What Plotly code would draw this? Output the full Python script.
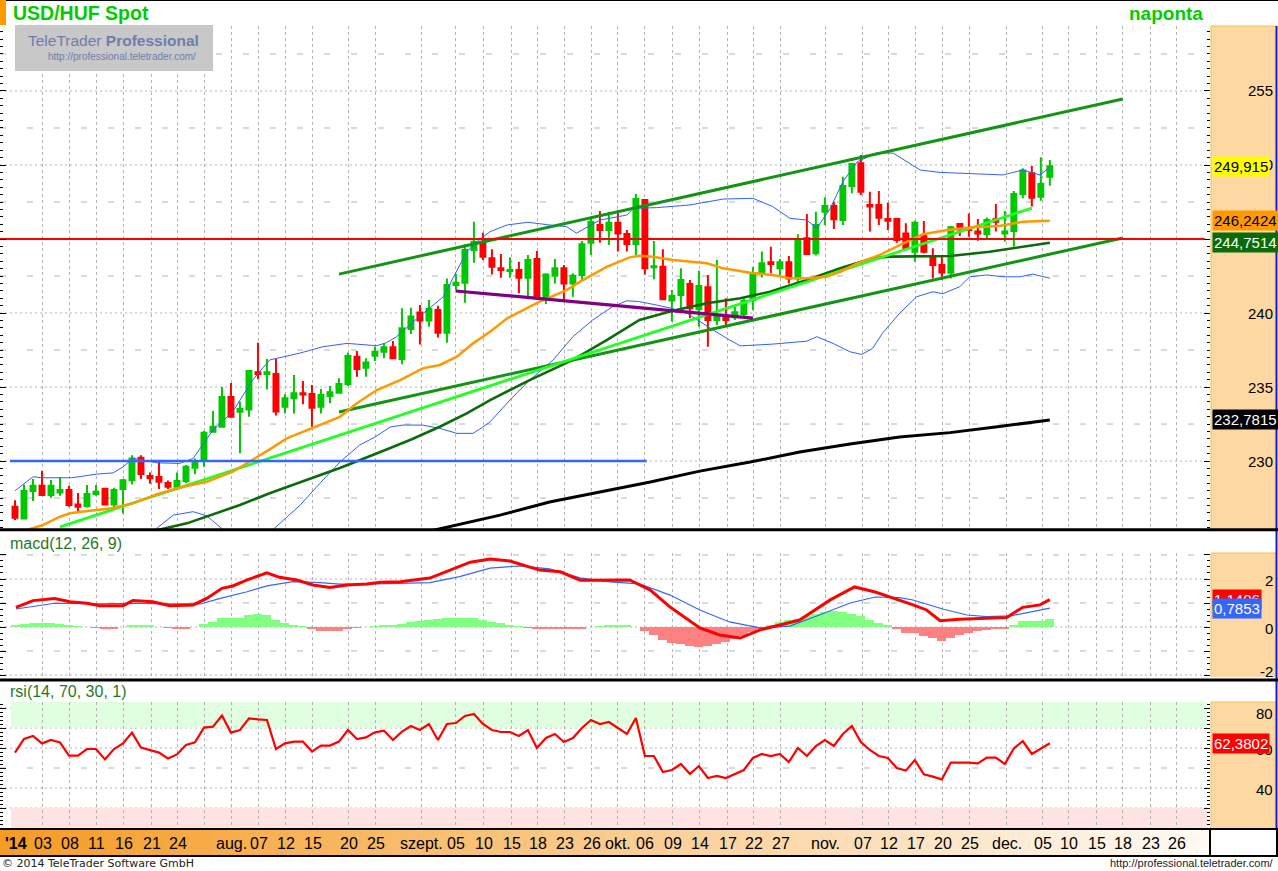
import plotly.graph_objects as go

# ======================= DATA =======================
days = list(range(1, 117))  # daily candle index

opens = [226.91, 226.12, 227.97, 228.33, 227.70, 227.88, 228.04, 227.07, 226.96, 227.77,
         228.13, 227.07, 228.11, 228.71, 230.22, 228.99, 228.92, 228.51, 228.26, 228.65,
         229.55, 230.07, 231.98, 232.32, 234.32, 233.33, 233.49, 236.00, 235.88, 235.88,
         233.67, 234.24, 234.58, 234.53, 233.67, 234.40, 234.62, 235.20, 237.05, 236.31,
         237.12, 237.39, 237.68, 236.90, 238.92, 240.03, 239.49, 240.20, 238.67, 241.89,
         242.05, 244.26, 244.82, 243.70, 243.02, 242.84, 242.91, 242.39, 243.65, 240.99,
         242.52, 243.02, 242.00, 242.57, 244.75, 245.95, 245.61, 246.10, 245.34, 244.66,
         247.64, 243.10, 243.13, 240.84, 241.22, 241.96, 240.25, 241.74, 239.53, 239.80,
         239.71, 239.93, 240.88, 242.75, 243.43, 243.02, 243.43, 242.34, 245.05, 244.03,
         246.85, 247.23, 246.28, 248.58, 250.12, 247.30, 247.30, 246.35, 246.35, 245.38,
         244.14, 245.20, 243.85, 243.24, 242.72, 246.01, 245.72, 245.50, 245.34, 246.33,
         245.38, 245.54, 248.04, 249.44, 247.86, 249.21]
highs = [227.36, 228.42, 228.78, 229.32, 228.72, 228.92, 228.33, 227.84, 228.38, 228.38,
         228.17, 228.20, 228.78, 230.40, 230.40, 229.23, 229.95, 228.69, 229.23, 229.73,
         230.18, 232.03, 233.38, 235.00, 235.27, 234.00, 236.12, 237.99, 236.89, 236.90,
         234.51, 235.81, 235.41, 235.14, 234.87, 235.07, 235.59, 237.32, 237.43, 236.94,
         237.73, 237.95, 238.11, 240.32, 240.36, 240.54, 240.88, 240.50, 242.34, 242.64,
         244.64, 246.17, 245.43, 244.30, 243.99, 243.76, 243.47, 243.92, 244.19, 242.68,
         243.65, 243.25, 242.68, 244.87, 246.40, 246.89, 246.85, 246.96, 245.61, 248.04,
         247.70, 244.87, 244.30, 241.56, 243.02, 242.23, 242.86, 242.57, 243.58, 240.99,
         240.43, 240.99, 243.11, 244.15, 244.48, 243.65, 243.85, 245.32, 246.69, 246.85,
         247.82, 247.52, 249.21, 250.12, 250.68, 248.20, 248.25, 247.46, 246.40, 246.06,
         246.24, 246.22, 244.37, 243.92, 245.88, 246.06, 246.73, 246.35, 246.46, 247.37,
         246.89, 248.25, 249.78, 249.93, 250.52, 250.34]
lows = [226.01, 226.05, 227.30, 227.66, 227.52, 227.66, 226.91, 226.53, 226.87, 227.66,
        227.03, 226.87, 226.46, 228.42, 228.78, 228.47, 228.11, 228.11, 228.22, 228.50,
        229.12, 229.62, 231.98, 232.25, 232.95, 230.52, 233.00, 235.52, 234.84, 233.07,
        233.22, 233.22, 233.83, 232.32, 233.22, 233.90, 234.57, 235.07, 235.70, 235.70,
        236.76, 236.94, 236.90, 236.54, 238.58, 237.88, 239.08, 238.34, 238.00, 241.56,
        240.70, 243.40, 243.58, 242.60, 242.39, 242.39, 241.33, 240.93, 240.93, 240.61,
        242.00, 240.88, 241.10, 242.23, 243.92, 244.75, 244.60, 244.15, 244.15, 243.92,
        242.60, 242.28, 240.88, 239.42, 240.25, 239.64, 239.08, 237.73, 239.19, 239.19,
        239.53, 239.75, 240.20, 242.40, 242.68, 242.57, 242.00, 242.00, 243.92, 243.88,
        245.95, 245.68, 245.95, 248.09, 247.97, 245.50, 245.95, 245.61, 244.75, 244.26,
        243.47, 244.03, 242.34, 242.23, 242.34, 245.20, 245.16, 244.89, 245.05, 245.50,
        244.82, 244.48, 247.75, 247.19, 247.59, 248.60]
closes = [226.17, 227.97, 228.33, 227.70, 228.33, 228.04, 227.03, 226.91, 227.77, 227.93,
          227.07, 228.04, 228.71, 230.18, 229.12, 228.83, 228.60, 228.26, 228.65, 229.62,
          229.95, 231.91, 232.32, 234.32, 233.00, 233.51, 236.08, 235.88, 236.00, 233.34,
          234.24, 234.58, 234.50, 233.60, 234.46, 234.64, 235.20, 237.10, 236.22, 236.65,
          237.39, 237.68, 236.94, 238.97, 239.76, 239.49, 240.27, 238.67, 241.89, 242.05,
          244.26, 244.82, 243.81, 243.13, 242.91, 242.91, 242.39, 243.58, 240.99, 242.61,
          243.02, 242.00, 242.52, 244.64, 246.17, 245.61, 246.10, 245.38, 244.66, 247.70,
          243.02, 243.16, 240.93, 241.15, 242.23, 240.32, 241.83, 239.53, 239.87, 239.53,
          240.05, 240.82, 242.68, 243.36, 243.32, 243.43, 242.34, 244.98, 243.99, 245.95,
          247.23, 246.33, 248.58, 250.07, 248.20, 247.19, 246.44, 246.24, 244.93, 244.37,
          246.10, 244.14, 243.24, 242.73, 245.79, 245.65, 245.61, 245.38, 246.28, 246.17,
          245.50, 248.04, 249.62, 247.79, 248.72, 249.915]

# Bollinger bands (vertices: candle index, price)
bb_up_x = [1, 3, 4, 7.3, 10.1, 11.9, 13, 14.1, 16.8, 19.3, 20.8, 23, 25.2, 27.4, 29.3, 32.7, 35.2, 37.9, 41.2, 42.3,
           43.4, 45.7, 48.6, 51.2, 52.7, 53.8, 55.7, 58, 60.4, 62.3, 63.4, 64.6, 66, 69, 69.7, 72.3, 76, 79.7, 83, 85.2,
           87.1, 89, 90.1, 91.6, 93, 94.6, 96.8, 98.6, 101.6, 103.8, 106.8, 110.8, 113, 114.9, 116]
bb_up_y = [227.99, 228.94, 228.87, 228.87, 229.12, 229.2, 229.6, 230.18, 229.88, 229.84, 230.18, 232.09, 233.33, 235.47,
           236.83, 237.3, 237.72, 237.95, 237.79, 238.0, 238.4, 239.64, 241.1, 244.14, 245.0, 245.5, 245.95, 246.13,
           245.95, 245.83, 245.4, 245.83, 246.28, 246.62, 247.07, 247.12, 247.3, 247.7, 247.75, 247.2, 246.4, 246.28,
           245.72, 247.07, 248.87, 250.22, 250.83, 250.8, 249.66, 249.5, 249.44, 249.33, 249.66, 249.33, 249.84]
bb_lo_x = [1, 10, 15.4, 16.6, 18.6, 20.8, 22.3, 24.1, 26, 28.4, 29.9, 32.7, 34.9, 37.1, 39.3, 41, 42.7, 44.1, 46.3, 48.2,
           50.1, 51.9, 53, 53.8, 56, 58.2, 60.8, 63, 65.2, 67.4, 69, 70.4, 72.3, 74.1, 75.7, 77.1, 78.6, 80.1, 81.6, 85.2,
           89, 90.1, 91.9, 93.8, 95.1, 96.3, 97.4, 99.3, 101.2, 103, 104.1, 106, 107.1, 109, 110.8, 112.7, 114.1, 116]
bb_lo_y = [224.0, 224.3, 225.2, 225.38, 226.35, 226.58, 226.3, 225.38, 224.6, 224.6, 225.5, 227.03, 228.51, 229.93,
           231.08, 231.62, 232.3, 232.43, 232.43, 232.21, 231.87, 231.87, 232.3, 232.65, 234.12, 235.47, 236.83, 238.4,
           239.53, 240.43, 240.83, 240.77, 240.54, 240.3, 239.98, 239.41, 238.85, 238.29, 237.78, 237.9, 238.1, 238.4,
           237.95, 237.38, 237.2, 237.61, 238.63, 239.98, 241.1, 241.44, 241.3, 241.78, 242.45, 242.57, 242.45, 242.45,
           242.63, 242.35]

# moving averages (vertices)
sma_x = [1, 2.4, 4.1, 6, 7.1, 9, 11.6, 14.1, 16.8, 19.7, 22.3, 25.2, 27.4, 29.3, 31.2, 33.4, 35.2, 37.1, 39, 41.2,
         43.8, 46.3, 48.2, 50.1, 51.9, 53.8, 55.7, 59.3, 62.3, 63.8, 66.8, 69.3, 70.4, 71.9, 74.1, 77.9, 79.7, 82.7,
         85.2, 87.1, 89, 91.2, 92.7, 94.6, 97.1, 99.3, 101.9, 104.6, 107.4, 110.4, 113, 116]
sma_y = [225.1, 225.38, 225.68, 226.24, 226.47, 226.62, 226.8, 227.14, 227.77, 228.26, 228.6, 229.28, 230.07, 230.79,
         231.53, 232.09, 232.55, 232.99, 233.9, 234.8, 235.47, 236.26, 236.49, 237.05, 237.95, 238.74, 239.64, 240.77,
         241.55, 242.12, 243.13, 243.76, 243.87, 243.8, 243.58, 243.36, 243.02, 242.72, 242.57, 242.35, 242.35, 242.45,
         242.79, 243.36, 243.92, 244.59, 245.32, 245.61, 245.79, 245.88, 246.17, 246.24]
ma50_x = [16, 17.1, 20.1, 23.4, 26, 29.3, 32.7, 37.1, 41.6, 45.1, 48.2, 51.2, 53.8, 58.2, 63, 66.8, 70.4, 74.1, 77.9,
          81.6, 84.9, 89, 92.7, 96.3, 98.2, 104.9, 109.3, 116]
ma50_y = [225.2, 225.38, 225.79, 226.47, 227.03, 227.82, 228.58, 229.53, 230.61, 231.47, 232.32, 233.22, 234.12, 235.47,
          236.83, 238.18, 239.53, 240.16, 240.66, 241.0, 241.44, 242.23, 243.02, 243.7, 243.81, 243.85, 244.14, 244.75]
ma200_x = [46.6, 54.9, 60.4, 66, 71.6, 77.1, 82.7, 88.2, 93.8, 99.3, 104.9, 110.4, 116]
ma200_y = [225.2, 226.35, 227.23, 227.91, 228.58, 229.32, 229.93, 230.61, 231.15, 231.62, 231.92, 232.33, 232.78]

# drawn trend lines (endpoints)
lime_x, lime_y = [6, 114], [225.55, 247.09]
chan_up_x, chan_up_y = [37, 124.1], [242.63, 254.46]
chan_lo_x, chan_lo_y = [37, 124.1], [233.31, 245.07]
purple_x, purple_y = [50, 83], [241.49, 239.66]
support_x, support_y = [0.44, 71.2], [230, 230]
resist_x, resist_y = [-0.67, 133.2], [245, 245]

# MACD (vertices) and histogram (per candle)
macd_x = [1.1, 3, 5.4, 7.1, 9, 10.4, 13, 14.1, 16.3, 18.2, 20.8, 22.3, 24, 25.2, 26.8, 29, 30.4, 32.3, 34.1, 36,
          37.9, 40.1, 41.6, 43.8, 47.1, 51.6, 53.8, 56, 59.3, 61.6, 63.8, 66, 69.3, 71.6, 73.8, 77.1, 79.3, 81.6, 83.8,
          86, 88.2, 91.6, 94.3, 96.6, 99.3, 100.8, 102.3, 103.8, 106, 108.6, 111.2, 113, 114.9, 116]
macd_y = [0.82, 1.10, 1.19, 1.05, 0.99, 0.89, 0.89, 1.10, 1.05, 0.89, 0.92, 1.19, 1.61, 1.71, 1.96, 2.26, 2.07, 1.96,
          1.75, 1.65, 1.75, 1.79, 1.86, 1.89, 2.04, 2.7, 2.83, 2.75, 2.37, 2.3, 1.95, 1.96, 1.96, 1.54, 0.83, -0.04,
          -0.33, -0.46, -0.12, 0.08, 0.29, 1.13, 1.67, 1.46, 1.125, 0.92, 0.71, 0.26, 0.32, 0.36, 0.40, 0.82, 0.92, 1.14]
sig_x = [1.1, 3, 5.4, 10.4, 14.1, 17.9, 21.6, 23.8, 26.8, 29, 31.9, 34.9, 37.1, 40.1, 43.8, 47.1, 50.4, 53.8, 57.1,
         60.4, 63.8, 67.1, 70.4, 73.8, 77.1, 80.4, 83.8, 87.1, 90.4, 93.8, 96.6, 99.3, 100.8, 104.1, 106.8, 109, 111.6,
         114, 116]
sig_y = [0.75, 0.85, 0.99, 0.96, 0.99, 0.96, 0.96, 1.19, 1.47, 1.71, 1.89, 1.85, 1.79, 1.79, 1.82, 1.85, 2.1, 2.45,
         2.55, 2.42, 2.05, 1.88, 1.8, 1.33, 0.71, 0.21, -0.04, 0.04, 0.5, 1.0, 1.25, 1.22, 1.125, 0.75, 0.5, 0.43,
         0.46, 0.64, 0.785]
hist = [0.05, 0.12, 0.18, 0.18, 0.18, 0.12, 0.06, 0.02, 0.0, -0.02,
        -0.07, -0.07, 0.0, 0.1, 0.06, 0.06, 0.0, -0.02, -0.07, -0.07,
        0.0, 0.12, 0.22, 0.39, 0.39, 0.39, 0.5, 0.54, 0.5, 0.29,
        0.15, 0.1, 0.03, -0.07, -0.15, -0.15, -0.15, -0.05, -0.02, 0.0,
        0.03, 0.06, 0.1, 0.14, 0.2, 0.25, 0.3, 0.33, 0.36, 0.38,
        0.38, 0.36, 0.3, 0.22, 0.15, 0.08, 0.02, -0.04, -0.08, -0.08,
        -0.08, -0.1, -0.1, -0.05, 0.0, 0.04, 0.08, 0.1, 0.1, 0.0,
        -0.15, -0.35, -0.55, -0.65, -0.72, -0.8, -0.82, -0.8, -0.72, -0.62,
        -0.5, -0.38, -0.2, -0.05, 0.1, 0.2, 0.28, 0.35, 0.45, 0.55,
        0.62, 0.65, 0.62, 0.55, 0.45, 0.3, 0.15, 0.05, -0.1, -0.24,
        -0.24, -0.375, -0.47, -0.57, -0.47, -0.33, -0.24, -0.17, -0.125, -0.1,
        -0.07, 0.08, 0.26, 0.26, 0.26, 0.33]

# RSI (per candle)
rsi = [57.7, 64.5, 66.0, 62.3, 64.0, 62.8, 56.2, 56.2, 59.5, 59.5,
       54.3, 59.5, 62.3, 67.7, 60.2, 59.0, 57.7, 54.8, 56.8, 61.5,
       62.8, 70.2, 70.7, 76.2, 67.7, 69.0, 74.8, 74.3, 74.0, 59.5,
       62.3, 63.2, 63.2, 58.2, 61.2, 61.2, 63.2, 69.0, 64.5, 65.3,
       67.8, 68.7, 64.0, 68.2, 71.0, 69.0, 72.0, 64.0, 72.0, 72.5,
       76.0, 77.0, 72.0, 69.0, 68.0, 68.0, 66.0, 69.0, 60.0, 65.0,
       67.0, 63.0, 65.0, 70.0, 74.0, 72.0, 73.0, 70.0, 67.0, 75.0,
       56.0, 56.0, 48.0, 49.0, 52.0, 47.0, 51.0, 45.0, 46.0, 45.0,
       47.0, 49.0, 55.0, 57.0, 56.0, 57.0, 53.0, 60.0, 56.0, 61.0,
       64.0, 61.0, 67.0, 71.0, 63.0, 59.0, 56.0, 55.0, 50.0, 48.7,
       54.0, 46.8, 45.7, 44.3, 52.7, 52.7, 52.7, 52.3, 55.2, 55.2,
       52.0, 59.8, 63.5, 57.0, 59.8, 62.38]

# last-value labels
last_close, last_sma, last_ma50, last_ma200 = 249.915, 246.2424, 244.7514, 232.7815
last_macd, last_signal, last_rsi = 1.1406, 0.7853, 62.3802

# date axis
date_tick_pos = [4.1, 7.1, 10.1, 13.1, 16.2, 19.1, 22.1, 25.1, 28.1, 31.1, 34.1, 38.1, 41.1, 46.2, 50.0, 53.1, 56.2,
                 59.1, 62.1, 65.1, 68.0, 71.0, 74.1, 77.1, 80.2, 83.1, 86.1, 91.1, 95.2, 98.1, 101.1, 104.1, 107.1,
                 111.2, 115.2, 118.1, 121.2, 124.1, 127.2, 130.1]
date_tick_text = ["03", "08", "11", "16", "21", "24", "", "aug.", "07", "12", "15", "20", "25", "szept.", "05", "10",
                  "15", "18", "23", "26", "okt.", "06", "09", "14", "17", "22", "27", "nov.", "07", "12", "17", "20",
                  "25", "dec.", "05", "10", "15", "18", "23", "26"]
price_ticks = [230, 235, 240, 250, 255]   # 245 is fully hidden behind the value badges
macd_ticks = [2, 0, -2]
rsi_ticks = [80, 60, 40]

# ======================= FIGURE =======================
W, H = 1278, 871
PR = 1210  # right edge of plotting area (px)


def fx(px):
    return px / W


def fy(py):
    return 1 - py / H


fig = go.Figure()

fig.add_trace(go.Candlestick(
    x=days, open=opens, high=highs, low=lows, close=closes,
    increasing=dict(line=dict(color='#00C800', width=2), fillcolor='#00C800'),
    decreasing=dict(line=dict(color='#FF0000', width=2), fillcolor='#FF0000'),
    whiskerwidth=0, xaxis='x', yaxis='y', hoverinfo='skip', showlegend=False))


def line(xs, ys, color, width, xa='x', ya='y'):
    fig.add_trace(go.Scatter(x=xs, y=ys, mode='lines', line=dict(color=color, width=width),
                             xaxis=xa, yaxis=ya, hoverinfo='skip', showlegend=False))


line(bb_up_x, bb_up_y, '#3060FF', 1)
line(bb_lo_x, bb_lo_y, '#3060FF', 1)
line(ma200_x, ma200_y, '#000000', 3)
line(ma50_x, ma50_y, '#0B6B0B', 2.6)
line(chan_up_x, chan_up_y, '#149414', 3)
line(chan_lo_x, chan_lo_y, '#149414', 3)
line(lime_x, lime_y, '#22FF22', 2.8)
line(sma_x, sma_y, '#FF9900', 2.5)
line(purple_x, purple_y, '#800080', 3.2)
line(support_x, support_y, '#3366FF', 2.5)
line(resist_x, resist_y, '#FF0000', 2)

# MACD panel
fig.add_trace(go.Bar(x=days, y=hist, width=1.0,
                     marker=dict(color=['#80FF80' if v >= 0 else '#FF8080' for v in hist], line=dict(width=0)),
                     xaxis='x2', yaxis='y2', hoverinfo='skip', showlegend=False))
line(sig_x, sig_y, '#3366FF', 1.2, 'x2', 'y2')
line(macd_x, macd_y, '#FF0000', 3, 'x2', 'y2')

# RSI panel
line(days, rsi, '#FF0000', 2.2, 'x3', 'y3')

# ---------------- axes ----------------
xcommon = dict(range=[-0.667, 133.8], tickvals=date_tick_pos, showticklabels=False, showgrid=True,
               gridcolor='#B4B4B4', griddash='dot', gridwidth=1, zeroline=False, ticks='', showline=False,
               domain=[0, fx(PR)])


def ycommon(dom, rng, dtick, minor):
    return dict(domain=dom, range=rng, side='right', showgrid=False, zeroline=False, showticklabels=False,
                ticks='inside', tick0=0, dtick=dtick, ticklen=6, tickcolor='black', tickwidth=1, mirror='ticks',
                showline=False,
                minor=dict(dtick=minor, ticks='inside', ticklen=3, tickcolor='black', showgrid=False))


fig.update_layout(
    width=W, height=H, margin=dict(l=0, r=0, t=0, b=0),
    paper_bgcolor='white', plot_bgcolor='white', showlegend=False,
    bargap=0, boxgap=0.22,
    font=dict(family='Liberation Sans', size=15, color='black'),
    xaxis=dict(**xcommon, anchor='y', rangeslider=dict(visible=False)),
    xaxis2=dict(**xcommon, anchor='y2', matches='x'),
    xaxis3=dict(**xcommon, anchor='y3', matches='x'),
    yaxis=dict(**ycommon([fy(529), fy(26)], [225.41, 259.39], 5, 0.5), anchor='x'),
    yaxis2=dict(**ycommon([fy(677), fy(553)], [-2.083, 3.083], 1, 0.25), anchor='x2'),
    yaxis3=dict(**ycommon([fy(828), fy(702)], [20, 83], 10, 2), anchor='x3'),
)

shapes = []
DOT = '2px,3px'
DASH = '6px,21px'


def hgrid(level, yref, dash):
    shapes.append(dict(type='line', xref='x domain', x0=0, x1=1, yref=yref, y0=level, y1=level,
                       line=dict(color='#B4B4B4', width=1, dash=dash), layer='below'))


for i in range(14):
    lv = 227.5 + 2.5 * i
    hgrid(lv, 'y', DOT if lv % 5 == 0 else DASH)
for lv in [3, 2, 1, 0, -1, -2]:
    hgrid(lv, 'y2', DOT if lv % 2 == 0 else DASH)
for lv in [80, 70, 60, 50, 40, 30]:
    hgrid(lv, 'y3', DASH if lv == 50 else DOT)

# RSI zones
shapes.append(dict(type='rect', xref='x3', x0=0.56, x1=133.5, yref='y3', y0=70.2, y1=83,
                   fillcolor='#E0FFE0', line=dict(width=0), layer='below'))
shapes.append(dict(type='rect', xref='x3', x0=0.56, x1=133.5, yref='y3', y0=20, y1=30.1,
                   fillcolor='#FFE2E2', line=dict(width=0), layer='below'))


def prect(x0, y0, x1, y1, fill, lw=0, lc='black', layer='below'):
    shapes.append(dict(type='rect', xref='paper', yref='paper', x0=fx(x0), x1=fx(x1), y0=fy(y1), y1=fy(y0),
                       fillcolor=fill, line=dict(width=lw, color=lc), layer=layer))


def pline(x0, y0, x1, y1, color, w, layer='above'):
    shapes.append(dict(type='line', xref='paper', yref='paper', x0=fx(x0), x1=fx(x1), y0=fy(y0), y1=fy(y1),
                       line=dict(color=color, width=w), layer=layer))


# right axis (peach) areas
for (a, b) in [(26, 529), (553, 677), (702, 828)]:
    prect(PR + 1, a, 1276, b, '#FDD8A2')
    pline(PR + 1, a, PR + 1, b, '#F2C048', 1)
    pline(PR + 1, a, 1276, a, '#F2C048', 1)
pline(1276.5, 26, 1276.5, 828, '#1020C0', 2)

# date bar gradient
N = 80
c0, c1 = (245, 156, 38), (255, 250, 244)
for i in range(N):
    t = i / (N - 1)
    col = 'rgb(%d,%d,%d)' % tuple(round(a + (b - a) * t) for a, b in zip(c0, c1))
    prect(i * PR / N, 829, (i + 1) * PR / N + 0.6, 856, col)

# frame lines
pline(0, 0.5, W, 0.5, 'black', 1)
pline(0, 529.8, W, 529.8, 'black', 3)
pline(0, 680, W, 680, 'black', 3)
pline(0, 829, W, 829, 'black', 2)
pline(0, 856, W, 856, 'black', 2)
pline(PR, 829, PR, 856, 'black', 2)
pline(1277, 829, 1277, 856, 'black', 2)
prect(0, 0, 6, 25, '#FF9900', layer='above')

# watermark box
prect(15, 25, 213, 71, '#C8C8C8', layer='above')

fig.update_layout(shapes=shapes)

# ---------------- annotations ----------------
anns = []


def ptext(text, x, y, size=15, color='black', xanchor='left', family='Liberation Sans', bold=False):
    anns.append(dict(text=('<b>%s</b>' % text) if bold else text, xref='paper', yref='paper', x=fx(x), y=fy(y),
                     xanchor=xanchor, yanchor='middle', showarrow=False,
                     font=dict(size=size, color=color, family=family)))


ptext('USD/HUF Spot', 11, 13, 19.5, '#00CC00', bold=True)
ptext('naponta', 1205, 13, 19, '#00CC00', 'right', bold=True)
ptext('TeleTrader <b>Professional</b>', 26, 41, 15.5, '#6E7DB0')
ptext('http://professional.teletrader.com/', 46, 57, 10, '#6E7DB0')
ptext('macd(12, 26, 9)', 8, 543, 16, '#1F7A1F')
ptext('rsi(14, 70, 30, 1)', 8, 691, 16, '#1F7A1F')
ptext('© 2014 TeleTrader Software GmbH', 0, 863, 11, '#222222', family='DejaVu Sans')
ptext('http://professional.teletrader.com/', 1276, 863, 11, '#222222', 'right')
ptext("'14", 3, 843, 16, 'black', bold=True)

for pos, txt in zip(date_tick_pos, date_tick_text):
    if txt:
        anns.append(dict(text=txt, xref='x', yref='paper', x=pos, y=fy(843), xanchor='center', yanchor='middle',
                         showarrow=False, font=dict(size=16, color='black')))


def axlabel(text, val, yref, yshift=0):
    anns.append(dict(text=text, xref='paper', yref=yref, x=fx(1275), y=val, xanchor='right', yanchor='middle',
                     showarrow=False, yshift=yshift, font=dict(size=15, color='black')))


for v in price_ticks:
    axlabel(str(v), v, 'y')
for v in macd_ticks:
    axlabel(str(v), v, 'y2', 4 if v == -2 else -1)
for v in rsi_ticks:
    axlabel(str(v), v, 'y3', -5 if v == 80 else -1)


def fmt(v, d):
    return ('%.*f' % (d, v)).replace('.', ',')


def badge(text, val, yref, bg, fg):
    anns.append(dict(text=text, xref='paper', yref=yref, x=fx(1212), y=val, xanchor='left', yanchor='middle',
                     showarrow=False, bgcolor=bg, borderpad=1, font=dict(size=15, color=fg)))


badge(fmt(last_close, 3), last_close, 'y', '#FFFF00', 'black')
badge(fmt(last_sma, 4), last_sma, 'y', '#FF9900', 'black')
badge(fmt(last_ma50, 4), last_ma50, 'y', '#0B6B0B', 'white')
badge(fmt(last_ma200, 4), last_ma200, 'y', '#000000', 'white')
badge(fmt(last_macd, 4), last_macd, 'y2', '#FF0000', 'white')
badge(fmt(last_signal, 4), last_signal, 'y2', '#3366FF', 'white')
badge(fmt(last_rsi, 4), last_rsi, 'y3', '#FF0000', 'white')

fig.update_layout(annotations=anns)

fig.write_html("out.html", post_script="document.body.style.margin='0';")
